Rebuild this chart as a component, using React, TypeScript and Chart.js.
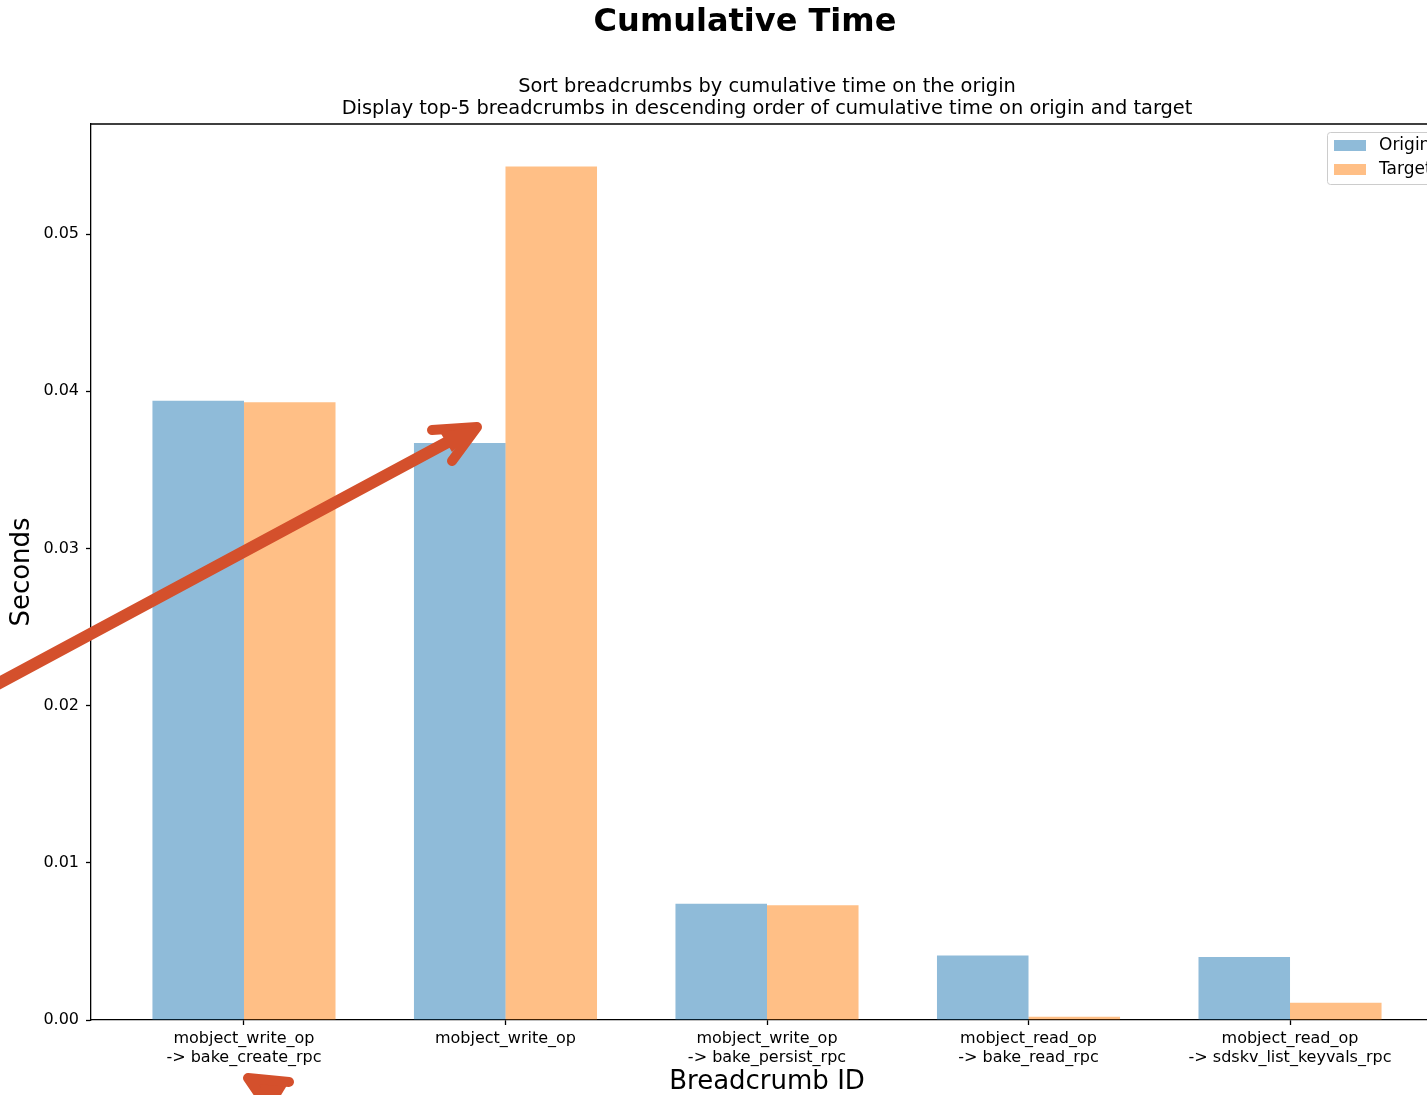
import { useEffect, useRef } from "react";
import { Chart, registerables } from "chart.js";

Chart.register(...registerables);

// ---------- data ----------
const categories: string[][] = [
  ["mobject_write_op", "-> bake_create_rpc"],
  ["mobject_write_op"],
  ["mobject_write_op", "-> bake_persist_rpc"],
  ["mobject_read_op", "-> bake_read_rpc"],
  ["mobject_read_op", "-> sdskv_list_keyvals_rpc"],
];
const seriesNames = ["Origin", "Target"];
const originValues = [0.0394, 0.0367, 0.0074, 0.0041, 0.004];
const targetValues = [0.0393, 0.0543, 0.0073, 0.0002, 0.0011];
const yTickValues = [0, 0.01, 0.02, 0.03, 0.04, 0.05];
const titleText = "Cumulative Time";
const subtitleLines = [
  "Sort breadcrumbs by cumulative time on the origin",
  "Display top-5 breadcrumbs in descending order of cumulative time on origin and target",
];
const xAxisTitle = "Breadcrumb ID";
const yAxisTitle = "Seconds";

// ---------- styles ----------
const FONT = "'DejaVu Sans', 'Liberation Sans', sans-serif";
const BLUE = "rgba(31,119,180,0.5)";
const ORANGE = "rgba(255,127,14,0.5)";
const ARROW = "#d4502c";
const CANVAS_W = 1460;
const CANVAS_H = 1095;

const overlayPlugin = {
  id: "overlay",
  afterDraw(chart: any) {
    const { ctx, chartArea } = chart;
    const { left, right, top, bottom } = chartArea;
    ctx.save();
    // top / right spines
    ctx.strokeStyle = "#000";
    ctx.lineWidth = 1.3;
    ctx.beginPath();
    ctx.moveTo(left, top);
    ctx.lineTo(right, top);
    ctx.lineTo(right, bottom);
    ctx.stroke();

    // titles
    ctx.fillStyle = "#000";
    ctx.textAlign = "center";
    ctx.textBaseline = "middle";
    ctx.font = `bold 32px ${FONT}`;
    ctx.fillText(titleText, 745, 23);
    ctx.font = `19.4px ${FONT}`;
    const cx = (left + right) / 2;
    subtitleLines.forEach((l, i) => ctx.fillText(l, cx, 87 + i * 22));

    // legend
    const lx = right - 116;
    const ly = top + 8;
    ctx.fillStyle = "rgba(255,255,255,0.8)";
    ctx.strokeStyle = "#cccccc";
    ctx.lineWidth = 1;
    ctx.beginPath();
    (ctx as any).roundRect(lx + 0.5, ly + 0.5, 140, 52, 3);
    ctx.fill();
    ctx.stroke();
    const colors = [BLUE, ORANGE];
    ctx.font = `17px ${FONT}`;
    ctx.textAlign = "left";
    seriesNames.forEach((n, i) => {
      const y = ly + 13 + i * 24;
      ctx.fillStyle = colors[i];
      ctx.fillRect(lx + 7, y - 5, 32, 11);
      ctx.fillStyle = "#000";
      ctx.fillText(n, lx + 52, y + 1);
    });

    // annotation arrows
    ctx.strokeStyle = ARROW;
    ctx.fillStyle = ARROW;
    ctx.lineCap = "round";
    ctx.lineJoin = "round";
    ctx.lineWidth = 12;
    ctx.beginPath();
    ctx.moveTo(-10, 688);
    ctx.lineTo(472, 429);
    ctx.stroke();
    ctx.lineWidth = 10;
    ctx.beginPath();
    ctx.moveTo(432, 430);
    ctx.lineTo(477, 427);
    ctx.lineTo(452, 461);
    ctx.stroke();
    ctx.beginPath();
    ctx.moveTo(477, 427);
    ctx.lineTo(440, 432);
    ctx.lineTo(452, 452);
    ctx.closePath();
    ctx.fill();

    ctx.beginPath();
    ctx.moveTo(246, 1078);
    ctx.lineTo(289, 1082);
    ctx.lineTo(272, 1110);
    ctx.closePath();
    ctx.fill();
    ctx.lineWidth = 10;
    ctx.beginPath();
    ctx.moveTo(289, 1082);
    ctx.lineTo(248, 1078);
    ctx.lineTo(270, 1110);
    ctx.stroke();
    ctx.restore();
  },
};

export default function App() {
  const ref = useRef<HTMLCanvasElement | null>(null);

  useEffect(() => {
    document.body.style.margin = "0";
    const canvas = ref.current;
    if (!canvas) return;
    const chart = new Chart(canvas, {
      type: "bar",
      data: {
        datasets: [
          {
            label: seriesNames[0],
            data: originValues.map((v, i) => ({ x: i, y: v })),
            backgroundColor: BLUE,
            borderWidth: 0,
          },
          {
            label: seriesNames[1],
            data: targetValues.map((v, i) => ({ x: i, y: v })),
            backgroundColor: ORANGE,
            borderWidth: 0,
          },
        ],
      },
      options: {
        animation: false,
        responsive: false,
        devicePixelRatio: 1,
        categoryPercentage: 0.7,
        barPercentage: 1,
        layout: { padding: { top: 124, left: 0, bottom: 0, right: CANVAS_W - 1443 } },
        plugins: {
          legend: { display: false },
          tooltip: { enabled: false },
          title: { display: false },
        },
        scales: {
          x: {
            type: "linear",
            offset: false,
            min: -0.585,
            max: 4.585,
            afterBuildTicks: (scale: any) => {
              scale.ticks = categories.map((_, i) => ({ value: i }));
            },
            afterFit: (scale: any) => {
              scale.height = CANVAS_H - 1020;
            },
            ticks: {
              autoSkip: false,
              maxRotation: 0,
              minRotation: 0,
              padding: 4,
              color: "#000",
              font: { family: FONT, size: 16, lineHeight: 1.2 },
              callback: (v: any) => categories[Math.round(Number(v))] ?? "",
            },
            grid: {
              display: true,
              offset: false,
              drawOnChartArea: false,
              drawTicks: true,
              tickLength: 5,
              tickColor: "#000",
              tickWidth: 1.3,
            },
            border: { display: true, color: "#000", width: 1.3 },
            title: {
              display: true,
              text: xAxisTitle,
              color: "#000",
              font: { family: FONT, size: 26, lineHeight: 1 },
              padding: { top: 0, bottom: 0 },
            },
          },
          y: {
            type: "linear",
            min: 0,
            max: 0.057,
            afterBuildTicks: (scale: any) => {
              scale.ticks = yTickValues.map((v) => ({ value: v }));
            },
            afterFit: (scale: any) => {
              scale.width = 91;
            },
            ticks: {
              padding: 7,
              color: "#000",
              font: { family: FONT, size: 16 },
              callback: (v: any) => Number(v).toFixed(2),
            },
            grid: {
              display: true,
              drawOnChartArea: false,
              drawTicks: true,
              tickLength: 5,
              tickColor: "#000",
              tickWidth: 1.3,
            },
            border: { display: true, color: "#000", width: 1.3 },
            title: {
              display: true,
              text: yAxisTitle,
              color: "#000",
              font: { family: FONT, size: 26, lineHeight: 1 },
              padding: { top: 9, bottom: 0 },
            },
          },
        },
      } as any,
      plugins: [overlayPlugin],
    });
    return () => chart.destroy();
  }, []);

  return (
    <div style={{ width: 1427, height: 1095, overflow: "hidden", position: "relative" }}>
      <canvas
        ref={ref}
        width={CANVAS_W}
        height={CANVAS_H}
        style={{ display: "block", width: CANVAS_W, height: CANVAS_H }}
      />
    </div>
  );
}
